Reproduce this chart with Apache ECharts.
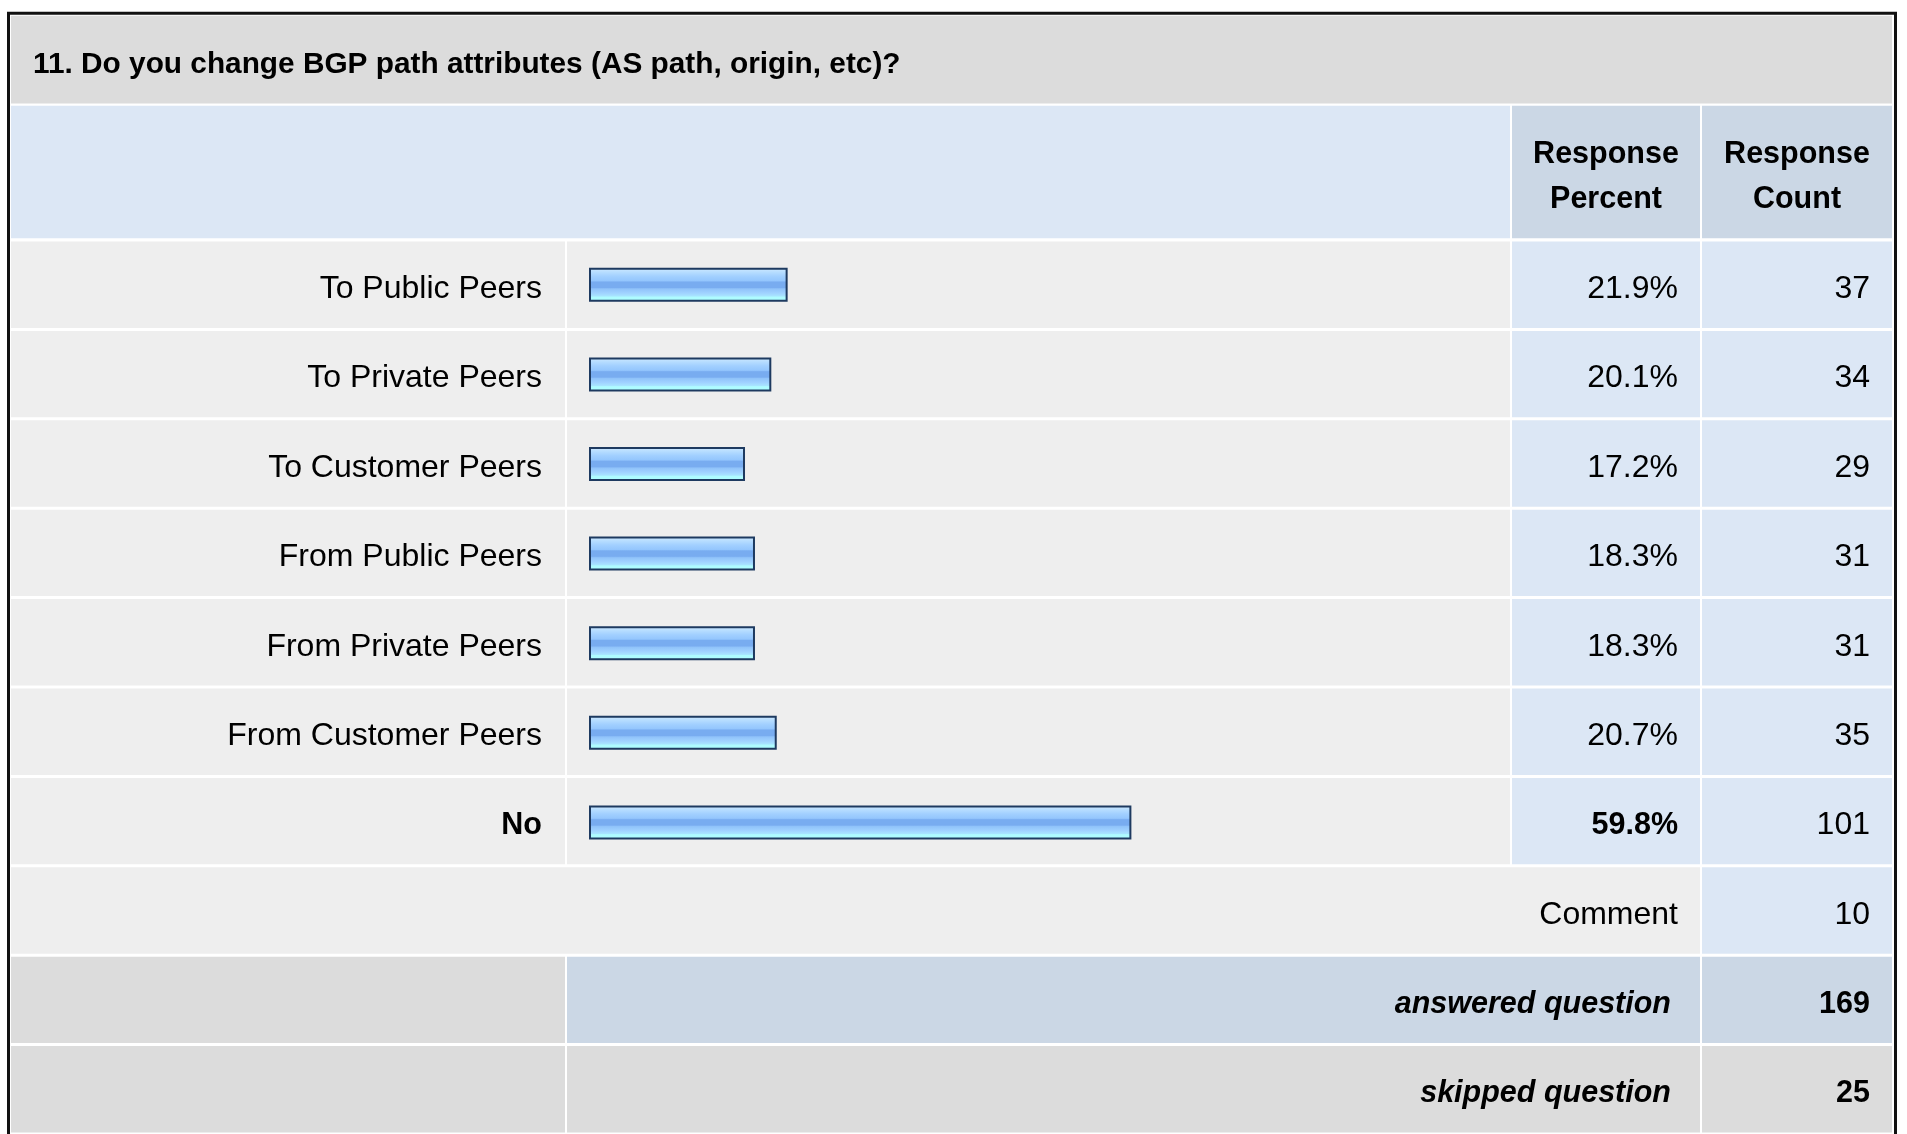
<!DOCTYPE html>
<html>
<head>
<meta charset="utf-8">
<script src="https://cdn.jsdelivr.net/npm/echarts@6/dist/echarts.min.js"></script>
<style>html,body{margin:0;padding:0;background:#fff;}#c{width:1907px;height:1134px;}</style>
</head>
<body>
<div id="c"></div>
<script>
const titleText = '11. Do you change BGP path attributes (AS path, origin, etc)?';
const headerLabels = ['Response\nPercent', 'Response\nCount'];
const categories = ['To Public Peers', 'To Private Peers', 'To Customer Peers', 'From Public Peers', 'From Private Peers', 'From Customer Peers', 'No'];
const percents = [21.9, 20.1, 17.2, 18.3, 18.3, 20.7, 59.8];
const counts = [37, 34, 29, 31, 31, 35, 101];
const commentLabel = 'Comment';
const commentCount = 10;
const answeredLabel = 'answered question';
const answeredCount = 169;
const skippedLabel = 'skipped question';
const skippedCount = 25;

const FONT = "'Liberation Sans', Arial, Helvetica, sans-serif";
const FS = 32, FSB = 30.5;
const C_GREY = '#dcdcdc', C_ROW = '#eeeeee', C_BLUE = '#dce7f5', C_BLUE2 = '#cbd7e5';

const maxIdx = percents.indexOf(Math.max(...percents));
const rowKinds = categories.map((c, i) => ({ kind: 'data', i }))
  .concat([{ kind: 'comment' }, { kind: 'answered' }, { kind: 'skipped' }]);
const rowNames = categories.concat([commentLabel, answeredLabel, skippedLabel]);

// column edges, relative to table left (x = 11)
const COL = { labelL: 0, labelR: 554, barL: 556, barR: 1499, pctL: 1501, pctR: 1689, cntL: 1691, cntR: 1881,
  labelText: 531, pctText: 1667, cntText: 1859, footText: 1660 };

function renderRow(params, api) {
  const row = api.value(1);
  const rk = rowKinds[row];
  const c = api.coord([0, row]);
  const bandH = api.size([0, 1])[1];
  const yTop = c[1] - bandH / 2 + 1.5;
  const h = bandH - 3;
  const X = v => api.coord([v, row])[0];
  const rect = (l, r, fill) => ({ type: 'rect', shape: { x: X(l), y: yTop, width: X(r) - X(l), height: h }, style: { fill } });
  const txt = (xv, s, weight, style) => ({ type: 'text', x: X(xv), y: c[1] + 4.5,
    style: { text: s, textAlign: 'right', textVerticalAlign: 'middle', fill: '#000',
      font: (style || 'normal') + ' ' + (weight || 'normal') + ' ' + (weight === 'bold' ? FSB : FS) + 'px ' + FONT } });
  const ch = [];
  if (rk.kind === 'data') {
    const b = rk.i === maxIdx ? 'bold' : 'normal';
    ch.push(rect(COL.labelL, COL.labelR, C_ROW), rect(COL.barL, COL.barR, C_ROW),
      rect(COL.pctL, COL.pctR, C_BLUE), rect(COL.cntL, COL.cntR, C_BLUE));
    ch.push(txt(COL.labelText, categories[rk.i], b));
    ch.push(txt(COL.pctText, percents[rk.i].toFixed(1) + '%', b));
    ch.push(txt(COL.cntText, String(counts[rk.i])));
  } else if (rk.kind === 'comment') {
    ch.push(rect(COL.labelL, COL.pctR, C_ROW), rect(COL.cntL, COL.cntR, C_BLUE));
    ch.push(txt(COL.pctText, commentLabel));
    ch.push(txt(COL.cntText, String(commentCount)));
  } else if (rk.kind === 'answered') {
    ch.push(rect(COL.labelL, COL.labelR, C_GREY), rect(COL.barL, COL.pctR, C_BLUE2), rect(COL.cntL, COL.cntR, C_BLUE2));
    ch.push(txt(COL.footText, answeredLabel, 'bold', 'italic'));
    ch.push(txt(COL.cntText, String(answeredCount), 'bold'));
  } else {
    ch.push(rect(COL.labelL, COL.labelR, C_GREY), rect(COL.barL, COL.pctR, C_GREY), rect(COL.cntL, COL.cntR, C_GREY));
    ch.push(txt(COL.footText, skippedLabel, 'bold', 'italic'));
    ch.push(txt(COL.cntText, String(skippedCount), 'bold'));
  }
  return { type: 'group', children: ch };
}

const barGradient = new echarts.graphic.LinearGradient(0, 0, 0, 1, [
  { offset: 0, color: '#d2eaff' }, { offset: 0.12, color: '#b8deff' }, { offset: 0.25, color: '#a2d0ff' },
  { offset: 0.38, color: '#94c6fd' }, { offset: 0.42, color: '#78acf0' }, { offset: 0.58, color: '#78acf0' },
  { offset: 0.62, color: '#90c3fa' }, { offset: 0.74, color: '#a0d2ff' }, { offset: 0.83, color: '#a8e4ff' },
  { offset: 0.86, color: '#aefcff' }, { offset: 1, color: '#aefcff' }
]);

const chart = echarts.init(document.getElementById('c'), null, { renderer: 'canvas' });
chart.setOption({
  backgroundColor: '#ffffff',
  animation: false,
  graphic: [
    { type: 'rect', z: 0, shape: { x: 8.5, y: 13.2, width: 1887, height: 1200 }, style: { fill: '#fff', stroke: '#111', lineWidth: 3 } },
    { type: 'rect', z: 1, shape: { x: 11, y: 15.7, width: 1881, height: 87.8 }, style: { fill: C_GREY } },
    { type: 'text', z: 2, x: 33, y: 65, style: { text: titleText, textVerticalAlign: 'middle', fill: '#000', font: 'bold 29.8px ' + FONT } },
    { type: 'rect', z: 1, shape: { x: 11, y: 105.8, width: 1499, height: 132.4 }, style: { fill: C_BLUE } },
    { type: 'rect', z: 1, shape: { x: 1512, y: 105.8, width: 188, height: 132.4 }, style: { fill: C_BLUE2 } },
    { type: 'rect', z: 1, shape: { x: 1702, y: 105.8, width: 190, height: 132.4 }, style: { fill: C_BLUE2 } },
    { type: 'text', z: 2, x: 1606, y: 177.5, style: { text: headerLabels[0], textAlign: 'center', textVerticalAlign: 'middle', lineHeight: 45, fill: '#000', font: 'bold 30.5px ' + FONT } },
    { type: 'text', z: 2, x: 1797, y: 177.5, style: { text: headerLabels[1], textAlign: 'center', textVerticalAlign: 'middle', lineHeight: 45, fill: '#000', font: 'bold 30.5px ' + FONT } }
  ],
  grid: [
    { left: 11, width: 1881, top: 240, height: 896, containLabel: false },
    { left: 589, width: 907, top: 240, height: 627.2, containLabel: false }
  ],
  xAxis: [
    { gridIndex: 0, type: 'value', min: 0, max: 1881, show: false },
    { gridIndex: 1, type: 'value', min: 0, max: 100, show: false }
  ],
  yAxis: [
    { gridIndex: 0, type: 'category', data: rowNames, inverse: true, show: false },
    { gridIndex: 1, type: 'category', data: categories, inverse: true, show: false }
  ],
  series: [
    {
      type: 'custom', xAxisIndex: 0, yAxisIndex: 0, z: 1, clip: false, silent: true,
      encode: { x: 0, y: 1 },
      data: rowNames.map((n, i) => [0, i]),
      renderItem: renderRow
    },
    {
      type: 'bar', xAxisIndex: 1, yAxisIndex: 1, z: 5, barWidth: 34, silent: true,
      data: percents,
      itemStyle: { color: barGradient, borderColor: '#1e3a60', borderWidth: 2 }
    }
  ]
});
</script>
</body>
</html>
